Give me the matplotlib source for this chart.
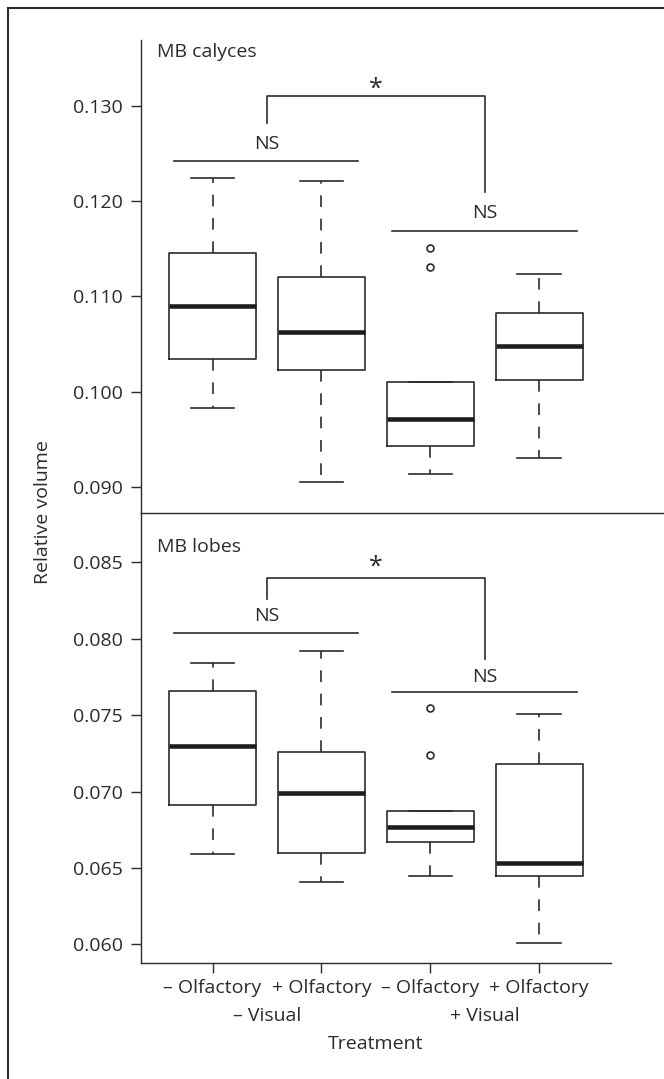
import matplotlib.pyplot as plt
from matplotlib.lines import Line2D

plt.rcParams['font.family'] = ['Open Sans', 'DejaVu Sans']
plt.rcParams['font.size'] = 14

ink = '#2b2b2b'

# x categories
groups = ['– Olfactory', '+ Olfactory', '– Olfactory', '+ Olfactory']
visual = ['– Visual', '+ Visual']

# MB calyces: whisker low, Q1, median, Q3, whisker high, outliers
cal_lo = [0.0983, 0.0905, 0.0914, 0.0930]
cal_q1 = [0.1034, 0.1023, 0.0943, 0.1012]
cal_med = [0.1090, 0.1063, 0.0971, 0.1048]
cal_q3 = [0.1145, 0.1120, 0.1010, 0.1083]
cal_hi = [0.1224, 0.1221, 0.1010, 0.1124]
cal_out = [[], [], [0.1151, 0.1131], []]

# MB lobes
lob_lo = [0.0659, 0.0641, 0.0645, 0.0601]
lob_q1 = [0.0691, 0.0660, 0.0667, 0.0645]
lob_med = [0.0730, 0.0699, 0.0677, 0.0653]
lob_q3 = [0.0766, 0.0726, 0.0687, 0.0718]
lob_hi = [0.0784, 0.0792, 0.0687, 0.0751]
lob_out = [[], [], [0.0755, 0.0724], []]

cal_ticks = [0.090, 0.100, 0.110, 0.120, 0.130]
lob_ticks = [0.060, 0.065, 0.070, 0.075, 0.080, 0.085]

# significance annotations: (bracket top, left end, right end, star y)
cal_sig = (0.1310, 0.1282, 0.1210, 0.1318)
lob_sig = (0.0840, 0.0826, 0.0787, 0.0847)
# NS lines: (left line y, left label y, right line y, right label y)
cal_ns = (0.1242, 0.1260, 0.1169, 0.1187)
lob_ns = (0.0804, 0.0815, 0.0765, 0.0775)

W, H = 664, 1079
fig = plt.figure(figsize=(W / 100, H / 100), dpi=100)

left = 140.7 / W
width = (611 - 140.7) / W
ax1 = fig.add_axes([left, 1 - 513.3 / H, width, (513.3 - 40) / H])
ax2 = fig.add_axes([left, 1 - 962.7 / H, width, (962.7 - 513.3) / H])


def stats(lo, q1, med, q3, hi, out):
    return [dict(whislo=lo[i], q1=q1[i], med=med[i], q3=q3[i], whishi=hi[i],
                 fliers=out[i]) for i in range(len(lo))]


def panel(ax, st, ylim, ticks, fmt, title, title_dy, sig, ns):
    ax.bxp(st, positions=[1, 2, 3, 4], widths=0.8, capwidths=0.4,
           boxprops=dict(color=ink, lw=1.2),
           medianprops=dict(color='#1e1e1e', lw=3.3, solid_capstyle='butt'),
           whiskerprops=dict(color=ink, lw=1.2, linestyle=(0, (7, 7))),
           capprops=dict(color=ink, lw=1.2),
           flierprops=dict(marker='o', mfc='none', mec=ink, ms=5, mew=1.2),
           manage_ticks=False)
    ax.set_xlim(0.34, 4.66)
    ax.set_ylim(*ylim)
    ax.set_yticks(ticks)
    ax.set_yticklabels([fmt.format(t) for t in ticks])
    for s in ['top', 'right', 'bottom']:
        ax.spines[s].set_visible(False)
    ax.spines['left'].set_color(ink)
    ax.spines['left'].set_linewidth(1)
    ax.tick_params(axis='y', length=7, width=1, color=ink, labelcolor=ink, pad=6)
    ax.annotate(title, xy=(0, 1), xycoords='axes fraction', xytext=(16.6, title_dy),
                textcoords='offset pixels', ha='left', va='center', color=ink)
    top, lend, rend, stary = sig
    ax.plot([1.5, 1.5, 3.5, 3.5], [lend, top, top, rend], color=ink, lw=1.2)
    ax.text(2.5, stary, '*', ha='center', va='center', color=ink, fontsize=18)
    ax.plot([0.65, 2.34], [ns[0], ns[0]], color=ink, lw=1.2)
    ax.text(1.5, ns[1], 'NS', ha='center', va='center', color=ink)
    ax.plot([2.65, 4.35], [ns[2], ns[2]], color=ink, lw=1.2)
    ax.text(3.5, ns[3], 'NS', ha='center', va='center', color=ink)


panel(ax1, stats(cal_lo, cal_q1, cal_med, cal_q3, cal_hi, cal_out),
      (0.08724, 0.1369), cal_ticks, '{:.3f}', 'MB calyces', -12, cal_sig, cal_ns)
panel(ax2, stats(lob_lo, lob_q1, lob_med, lob_q3, lob_hi, lob_out),
      (0.0588, 0.08821), lob_ticks, '{:.3f}', 'MB lobes', -33.4, lob_sig, lob_ns)

ax1.set_xticks([])
ax2.spines['bottom'].set_visible(True)
ax2.spines['bottom'].set_color(ink)
ax2.spines['bottom'].set_linewidth(1)
ax2.set_xticks([1, 2, 3, 4])
ax2.set_xticklabels(groups)
ax2.tick_params(axis='x', length=7, width=1, color=ink, labelcolor=ink, pad=4.5)
for xc, lab in zip([1.5, 3.5], visual):
    ax2.annotate(lab, xy=(xc, 0), xycoords=('data', 'axes fraction'), xytext=(0, -53.3),
                 textcoords='offset pixels', ha='center', va='center', color=ink)
ax2.annotate('Treatment', xy=(2.5, 0), xycoords=('data', 'axes fraction'), xytext=(0, -81.3),
             textcoords='offset pixels', ha='center', va='center', color=ink)

fig.text(43 / W, 1 - 512 / H, 'Relative volume', rotation=90, ha='center', va='center',
         color=ink)

# panel divider and outer frame
fig.add_artist(Line2D([left, 1], [1 - 513.3 / H] * 2, color=ink, lw=1))
fig.add_artist(Line2D([8 / W, 8 / W], [0, 1 - 8 / H], color=ink, lw=1.5))
fig.add_artist(Line2D([8 / W, 1], [1 - 8 / H] * 2, color=ink, lw=1.5))

fig.savefig('out.png', dpi=100)
